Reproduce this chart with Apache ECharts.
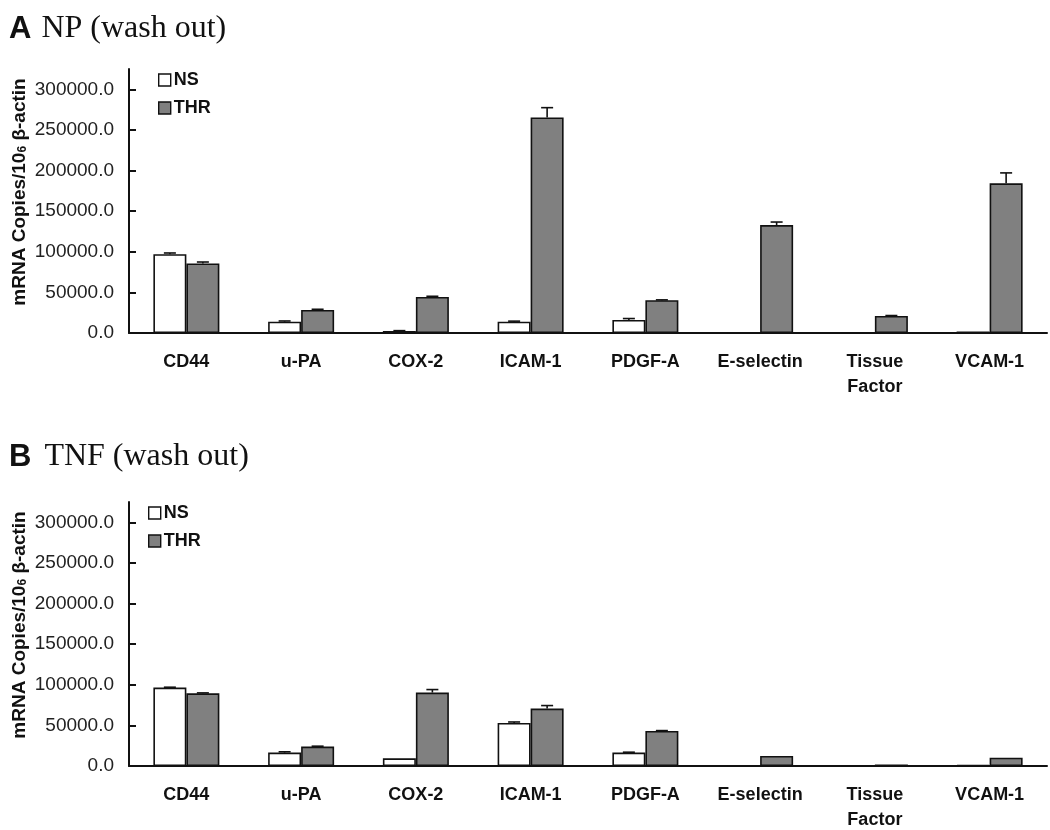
<!DOCTYPE html>
<html>
<head>
<meta charset="utf-8">
<script src="https://cdn.jsdelivr.net/npm/echarts@6/dist/echarts.min.js"></script>
<style>
  html, body { margin: 0; padding: 0; background: #fff; }
  #chart { width: 1050px; height: 830px; }
</style>
</head>
<body>
<div id="chart"></div>
<script>
const genes = ['CD44', 'u-PA', 'COX-2', 'ICAM-1', 'PDGF-A', 'E-selectin', 'Tissue\nFactor', 'VCAM-1']
const yTicks = [0, 50000, 100000, 150000, 200000, 250000, 300000]

// panel A: NP (wash out)
const npNS = [97000, 14000, 2500, 14000, 16000, 500, 0, 2000]
const npNSErr = [1500, 800, 400, 600, 1800, 0, 0, 0]
const npTHR = [85600, 28400, 44400, 265400, 40300, 132900, 21000, 184300]
const npTHRErr = [1800, 800, 800, 12000, 500, 3700, 500, 12800]

// panel B: TNF (wash out)
const tnfNS = [96500, 16500, 9500, 53000, 16500, 300, 0, 1000]
const tnfNSErr = [500, 1000, 0, 1200, 500, 0, 0, 0]
const tnfTHR = [89500, 23900, 90400, 70700, 43100, 12300, 2000, 10300]
const tnfTHRErr = [500, 500, 3700, 3700, 500, 0, 0, 0]

const BAR_W = 33
const GRAY = '#808080'

const chart = echarts.init(document.getElementById('chart'))

const errorRender = (side) => (params, api) => {
  const err = api.value(2)
  if (!err) return null
  const cat = api.value(0)
  const base = api.coord([cat, api.value(1)])
  const top = api.coord([cat, api.value(1) + err])
  const x = base[0] + side * BAR_W / 2
  const style = { stroke: '#111', lineWidth: 1.6 }
  return {
    type: 'group',
    children: [
      { type: 'line', shape: { x1: x, y1: base[1], x2: x, y2: top[1] }, style },
      { type: 'line', shape: { x1: x - 6, y1: top[1], x2: x + 6, y2: top[1] }, style },
    ],
  }
}

const errData = (vals, errs) => vals.map((v, i) => [i, v, errs[i]])

const grids = [
  { left: 129, right: 3, top: 69, height: 264, outerBoundsMode: 'none' },
  { left: 129, right: 3, top: 502, height: 264, outerBoundsMode: 'none' },
]

const xAxisFor = (gi) => ({
  type: 'category',
  gridIndex: gi,
  data: genes,
  axisLine: { lineStyle: { color: '#111', width: 2 } },
  axisTick: { inside: true, length: 7, lineStyle: { color: '#111', width: 2 } },
  axisLabel: {
    color: '#111', fontFamily: 'Liberation Sans, Arial', fontWeight: 'bold',
    fontSize: 18, margin: 17, lineHeight: 25, interval: 0,
  },
})

const yAxisFor = (gi) => ({
  type: 'value',
  gridIndex: gi,
  min: 0,
  max: 325000,
  splitLine: { show: false },
  axisLine: { show: true, lineStyle: { color: '#111', width: 2 } },
  axisTick: { show: true, inside: true, length: 7, customValues: yTicks, lineStyle: { color: '#111', width: 2 } },
  axisLabel: {
    customValues: yTicks,
    formatter: (v) => v.toFixed(1),
    color: '#222', fontFamily: 'Liberation Sans, Arial', fontSize: 19, margin: 15,
  },
  name: 'mRNA Copies/10{sub|6} β-actin',
  nameLocation: 'middle',
  nameGap: 100,
  nameMoveOverlap: false,
  nameTextStyle: {
    color: '#111', fontFamily: 'Liberation Sans, Arial', fontWeight: 'bold', fontSize: 19,
    padding: [0, 0, 0, 18],
    rich: { sub: { fontSize: 12, fontWeight: 'bold', verticalAlign: 'bottom', padding: [7, 0, 0, 0] } },
  },
})

const barSeries = (name, gi, vals, color) => ({
  name,
  type: 'bar',
  xAxisIndex: gi,
  yAxisIndex: gi,
  data: vals,
  barWidth: BAR_W,
  barGap: '0%',
  itemStyle: { color, borderColor: '#111', borderWidth: 1.6 },
})

const errSeries = (gi, side, vals, errs) => ({
  type: 'custom',
  xAxisIndex: gi,
  yAxisIndex: gi,
  data: errData(vals, errs),
  renderItem: errorRender(side),
  z: 3,
  silent: true,
})

const legendFor = (left, top) => ({
  left, top,
  orient: 'vertical',
  icon: 'rect',
  itemWidth: 12,
  itemHeight: 12,
  itemGap: 10,
  data: ['NS', 'THR'],
  textStyle: { color: '#111', fontFamily: 'Liberation Sans, Arial', fontWeight: 'bold', fontSize: 18, padding: [0, 0, 0, -2] },
  itemStyle: { borderColor: '#111', borderWidth: 1.4 },
})

const titleFor = (letter, text, top, gap) => ({
  left: 4,
  top,
  text: `{a|${letter}}{b|${text}}`,
  textStyle: {
    rich: {
      a: { fontFamily: 'Liberation Sans, Arial', fontWeight: 'bold', fontSize: 31, color: '#111' },
      b: { fontFamily: 'Liberation Serif, Times New Roman', fontWeight: 'normal', fontSize: 32, color: '#111', padding: [0, 0, 0, gap] },
    },
  },
})

chart.setOption({
  animation: false,
  title: [titleFor('A', 'NP (wash out)', 8, 10), titleFor('B', 'TNF (wash out)', 436, 13)],
  legend: [legendFor(153, 66), legendFor(143, 499)],
  grid: grids,
  xAxis: [xAxisFor(0), xAxisFor(1)],
  yAxis: [yAxisFor(0), yAxisFor(1)],
  series: [
    barSeries('NS', 0, npNS, '#fff'),
    barSeries('THR', 0, npTHR, GRAY),
    barSeries('NS', 1, tnfNS, '#fff'),
    barSeries('THR', 1, tnfTHR, GRAY),
    errSeries(0, -1, npNS, npNSErr),
    errSeries(0, 1, npTHR, npTHRErr),
    errSeries(1, -1, tnfNS, tnfNSErr),
    errSeries(1, 1, tnfTHR, tnfTHRErr),
  ],
})
</script>
</body>
</html>
